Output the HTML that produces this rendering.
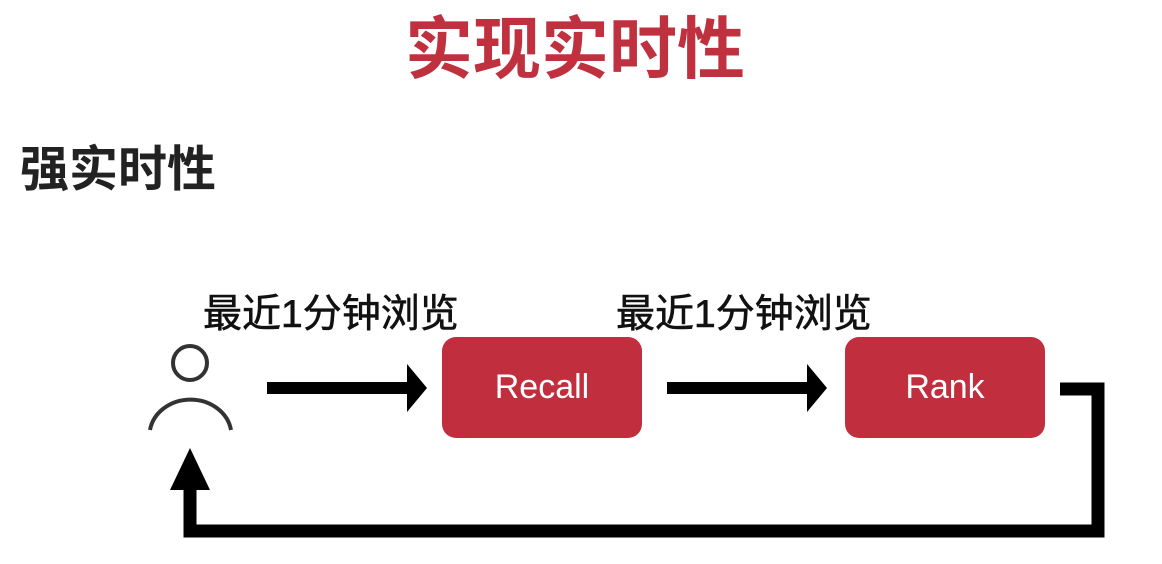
<!DOCTYPE html>
<html><head><meta charset="utf-8"><style>
body{margin:0;width:1162px;height:564px;background:#fff;position:relative;overflow:hidden;font-family:"Liberation Sans","Noto Sans CJK SC",sans-serif}
.t{position:absolute;white-space:nowrap}
.box{position:absolute;background:#c12f3f;border-radius:14px;color:#fff;font-size:34px;display:flex;align-items:center;justify-content:center;top:337px;width:200px;height:101px}
</style></head><body>
<div class="t" style="left:405px;top:-6px;font-size:68px;font-weight:bold;color:#c0313f">实现实时性</div>
<div class="t" style="left:20px;top:130px;font-size:49px;font-weight:bold;color:#222">强实时性</div>
<div class="t" style="left:203px;top:283px;font-size:39px;color:#111;-webkit-text-stroke:0.6px #111">最近1分钟浏览</div>
<div class="t" style="left:616px;top:283px;font-size:39px;color:#111;-webkit-text-stroke:0.6px #111">最近1分钟浏览</div>
<div class="box" style="left:442px">Recall</div>
<div class="box" style="left:845px">Rank</div>
<svg width="1162" height="564" style="position:absolute;left:0;top:0">
<circle cx="190" cy="363" r="17" fill="none" stroke="#333" stroke-width="4"/>
<path d="M150 430 A41 36 0 0 1 231 430" fill="none" stroke="#333" stroke-width="4"/>
<rect x="267" y="382" width="142" height="12" fill="#000"/>
<polygon points="407,364 427,388 407,412" fill="#000"/>
<rect x="667" y="382" width="142" height="12" fill="#000"/>
<polygon points="807,364 827,388 807,412" fill="#000"/>
<polyline points="1060,389 1098,389 1098,531 190,531 190,485" fill="none" stroke="#000" stroke-width="13"/>
<polygon points="170,490 190,448 210,490" fill="#000"/>
</svg>
</body></html>
